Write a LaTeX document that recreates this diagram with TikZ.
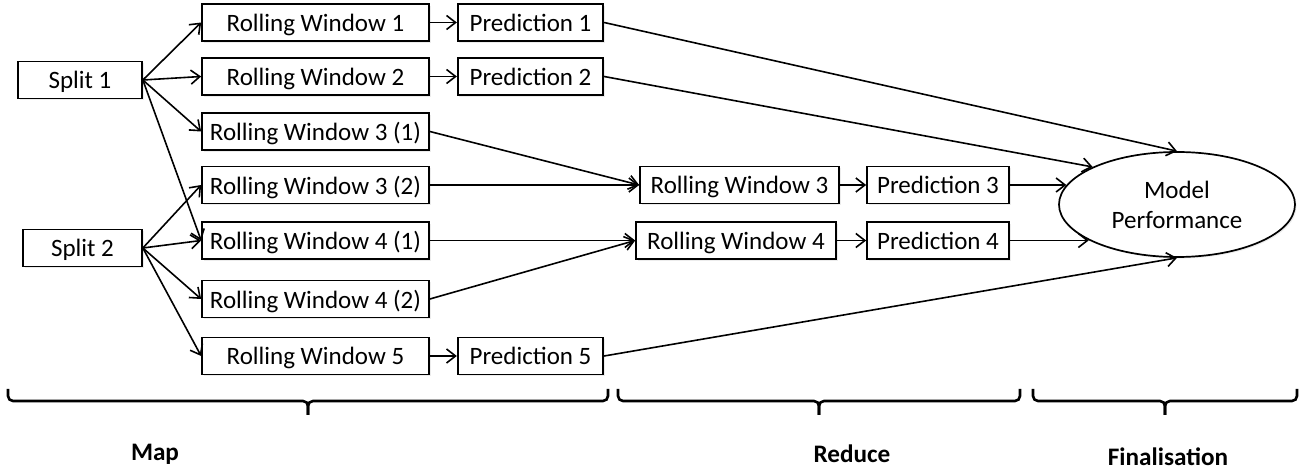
\documentclass[tikz,border=0pt]{standalone}
\usepackage{fontspec}
\setmainfont{Carlito}
\usetikzlibrary{arrows.meta,shapes.geometric,shadows}
\begin{document}
\begin{tikzpicture}[x=0.5pt,y=-0.5pt,
  shade/.style={drop shadow={shadow xshift=0.8pt,shadow yshift=-0.8pt,opacity=0.15}},
  box/.style={draw,line width=0.85pt,inner sep=0pt,minimum height=18.5pt,fill=white,
    text depth=0pt,shade,font=\fontsize{12.5}{15}\selectfont},
  conn/.style={line width=0.8pt,-{Straight Barb[length=4.5pt,width=7pt,line width=0.8pt]}},
  brace/.style={line width=1.3pt,rounded corners=2.5pt},
  lbl/.style={font=\fontsize{12.6}{15}\selectfont\bfseries}]
\useasboundingbox (0,0) rectangle (1308,470);

% Split nodes
\node[box,minimum width=62pt] (s1) at (80,80) {Split 1};
\node[box,minimum width=59.5pt] (s2) at (82.5,248) {Split 2};

% Rolling windows (map)
\node[box,minimum width=113.5pt] (rw1) at (315.5,22.5) {Rolling Window 1};
\node[box,minimum width=113.5pt] (rw2) at (315.5,76.5) {Rolling Window 2};
\node[box,minimum width=113.5pt] (rw31) at (315.5,131.5) {Rolling Window 3 (1)};
\node[box,minimum width=113.5pt] (rw32) at (315.5,185) {Rolling Window 3 (2)};
\node[box,minimum width=113.5pt] (rw41) at (315.5,240.5) {Rolling Window 4 (1)};
\node[box,minimum width=113.5pt] (rw42) at (315.5,299) {Rolling Window 4 (2)};
\node[box,minimum width=113.5pt] (rw5) at (315.5,356) {Rolling Window 5};

% Predictions (map)
\node[box,minimum width=72.8pt] (p1) at (530.5,22.5) {Prediction 1};
\node[box,minimum width=72.8pt] (p2) at (530.5,76.5) {Prediction 2};
\node[box,minimum width=72.8pt] (p5) at (530.5,356) {Prediction 5};

% Reduce
\node[box,minimum width=99.5pt] (rw3) at (739.5,185) {Rolling Window 3};
\node[box,minimum width=100pt] (rw4) at (736,240.5) {Rolling Window 4};
\node[box,minimum width=71pt] (p3) at (938,185) {Prediction 3};
\node[box,minimum width=71pt] (p4) at (938,240.5) {Prediction 4};

% Finalisation
\node[ellipse,draw,line width=0.85pt,fill=white,shade,inner sep=0pt,minimum width=118pt,
  minimum height=52.5pt,align=center,font=\fontsize{12.5}{15}\selectfont]
  (ell) at (1177,204.5) {Model\\Performance};

% Connectors from splits
\draw[conn] (s1.east) -- (rw1.west);
\draw[conn] (s1.east) -- (rw2.west);
\draw[conn] (s1.east) -- (rw31.west);
\draw[conn] (s1.east) -- (rw41.west);
\draw[conn] (s2.east) -- (rw32.west);
\draw[conn] (s2.east) -- (rw41.west);
\draw[conn] (s2.east) -- (rw42.west);
\draw[conn] (s2.east) -- (rw5.west);

% Window -> prediction
\draw[conn] (rw1.east) -- (p1.west);
\draw[conn] (rw2.east) -- (p2.west);
\draw[conn] (rw5.east) -- (p5.west);

% Partial windows -> reduced windows
\draw[conn] (rw31.east) -- (rw3.west);
\draw[conn] (rw32.east) -- (rw3.west);
\draw[conn] (rw41.east) -- (rw4.west);
\draw[conn] (rw42.east) -- (rw4.west);
\draw[conn] (rw3.east) -- (p3.west);
\draw[conn] (rw4.east) -- (p4.west);

% Predictions -> model performance
\draw[conn] (p1.east) -- (ell.north);
\draw[conn] (p2.east) -- (ell.156);
\draw[conn] (p3.east) -- (p3.east -| ell.170);
\draw[conn] (p4.east) -- (p4.east -| ell.202);
\draw[conn] (p5.east) -- (ell.south);

% Braces
\draw[brace] (8,389) -- (8,401) -- (308,401) -- (308,415);
\draw[brace] (608,389) -- (608,401) -- (308,401) -- (308,415);
\draw[brace] (618,389) -- (618,401) -- (819,401) -- (819,415);
\draw[brace] (1020,389) -- (1020,401) -- (819,401) -- (819,415);
\draw[brace] (1033,389) -- (1033,401) -- (1165,401) -- (1165,415);
\draw[brace] (1297,389) -- (1297,401) -- (1165,401) -- (1165,415);

% Phase labels
\node[lbl] (map) at (155,454) {Map};
\node[lbl] (red) at (852,454) {Reduce};
\node[lbl] (fin) at (1168,457) {Finalisation};
\end{tikzpicture}
\end{document}
